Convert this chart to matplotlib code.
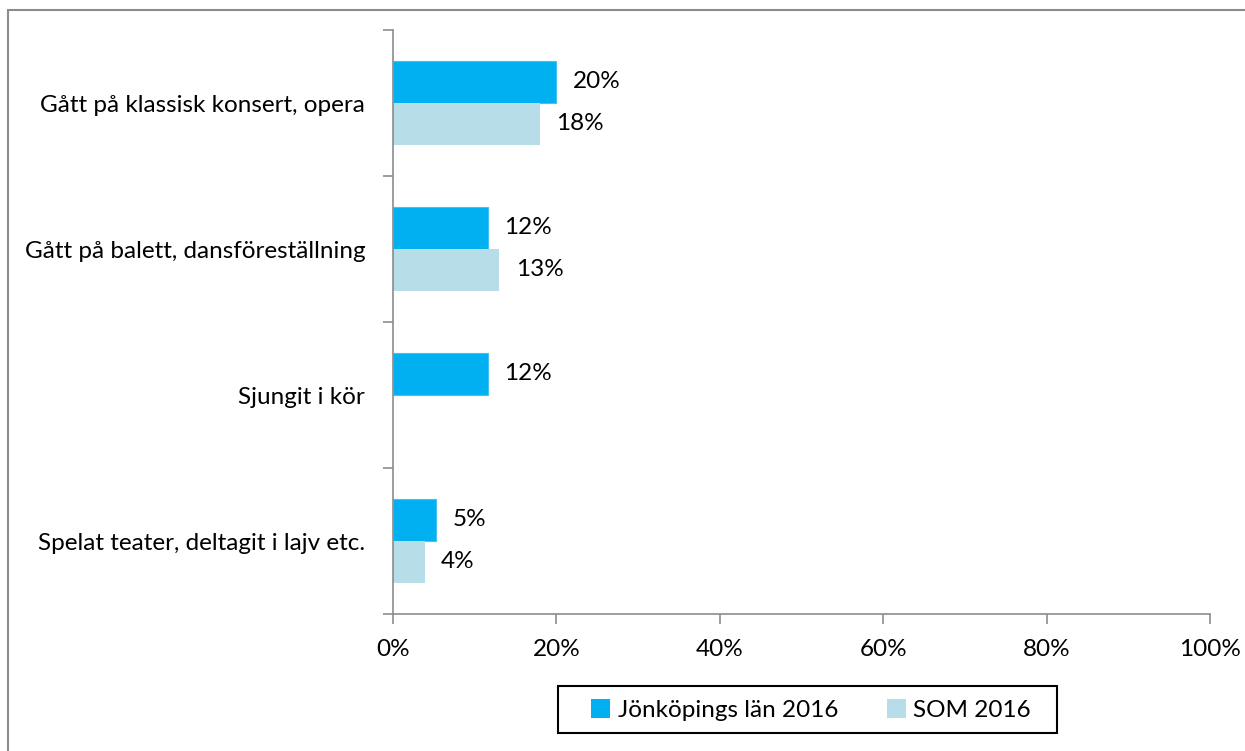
import numpy as np
import matplotlib.pyplot as plt
from matplotlib.patches import Rectangle

categories = ['Gått på klassisk konsert, opera', 'Gått på balett, dansföreställning',
              'Sjungit i kör', 'Spelat teater, deltagit i lajv etc.']
jkpg = [20, 11.6, 11.6, 5.3]
som = [18, 13, np.nan, 3.9]
jkpg_labels = ['20%', '12%', '12%', '5%']
som_labels = ['18%', '13%', '', '4%']
xticks = [0, 20, 40, 60, 80, 100]

plt.rcParams['font.family'] = ['Lato', 'DejaVu Sans']
fs = 17.5

fig = plt.figure(figsize=(12.45, 7.51), dpi=100)
ax = fig.add_axes([393 / 1245, 1 - 614 / 751, (1210 - 393) / 1245, (614 - 30) / 751])

# outer chart border (only left/top visible in the reference)
fig.add_artist(Rectangle((8 / 1245, -0.1), 1.2, 1 - 10 / 751 + 0.1,
                         transform=fig.transFigure, fill=False,
                         edgecolor='#8c8c8c', linewidth=1.5))

y = np.arange(len(categories))
h = 42 / 146
ax.barh(y - h / 2, jkpg, height=h, color='#00B0F0', edgecolor='#40C4F4', linewidth=0.8,
        label='Jönköpings län 2016')
ax.barh(y + h / 2, som, height=h, color='#B7DEE8', linewidth=0, label='SOM 2016')

for i in range(len(categories)):
    ax.text(jkpg[i] + 2, y[i] - h / 2, jkpg_labels[i], va='center', ha='left', fontsize=fs)
    if som_labels[i]:
        ax.text(som[i] + 2, y[i] + h / 2, som_labels[i], va='center', ha='left', fontsize=fs)

ax.set_ylim(len(categories) - 0.5, -0.5)
ax.set_xlim(0, 100)
ax.set_yticks(np.arange(-0.5, len(categories)), minor=False)
ax.set_yticklabels([])
ax.set_yticks(y, minor=True)
ax.set_yticklabels(categories, minor=True, fontsize=fs)
ax.tick_params(axis='y', which='major', length=7, color='#8c8c8c', width=1.2)
ax.tick_params(axis='y', which='minor', length=0, pad=20)
ax.set_xticks(xticks)
ax.set_xticklabels([f'{t}%' for t in xticks], fontsize=fs)
ax.tick_params(axis='x', length=7, color='#8c8c8c', width=1.2, pad=11)

for s in ['top', 'right']:
    ax.spines[s].set_visible(False)
for s in ['left', 'bottom']:
    ax.spines[s].set_color('#8c8c8c')
    ax.spines[s].set_linewidth(1.2)

# legend without its own frame, boxed separately to match the wider reference box
leg = fig.legend(loc='center', bbox_to_anchor=(811 / 1245, 1 - 710 / 751), ncol=2,
                 fontsize=fs, frameon=False, handlelength=0.8,
                 handleheight=0.8, handletextpad=0.3, columnspacing=2.0,
                 borderpad=0, borderaxespad=0)
for p in leg.get_patches():
    p.set_edgecolor('none')
fig.add_artist(Rectangle((558 / 1245, 1 - 733 / 751), (1057 - 558) / 1245, 47 / 751,
                         transform=fig.transFigure, fill=False,
                         edgecolor='black', linewidth=1.5))

fig.savefig('out.png', dpi=100)
